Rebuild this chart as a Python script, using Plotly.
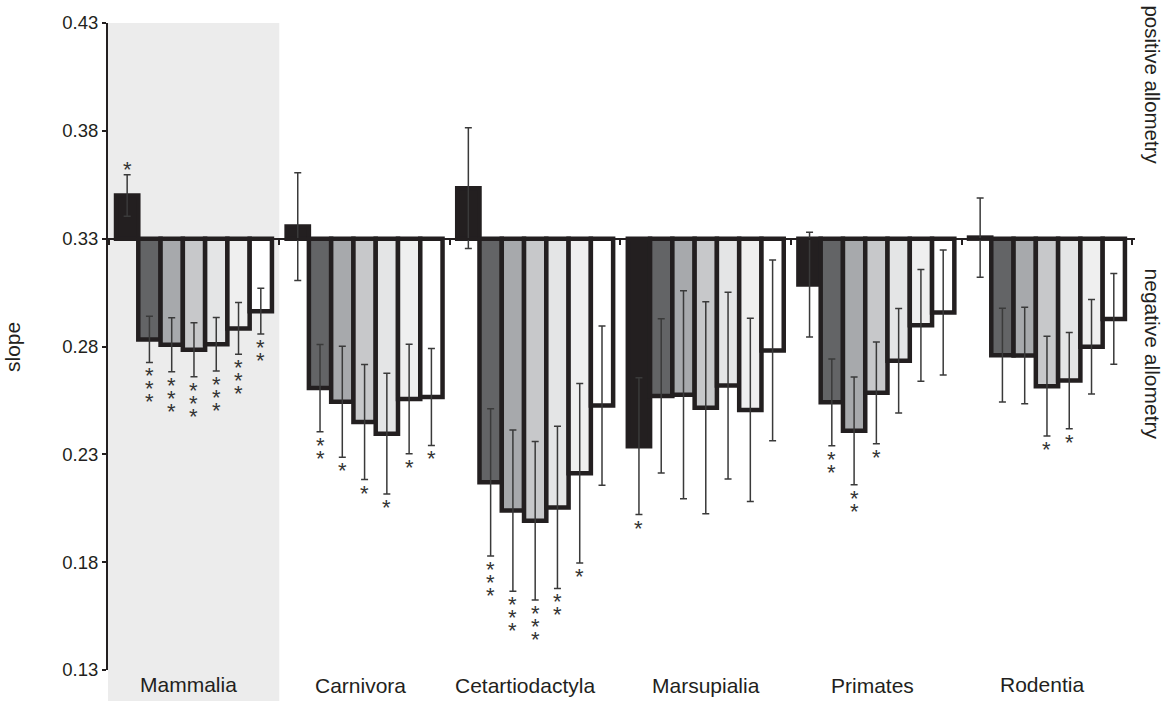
import plotly.graph_objects as go

# ---- data ----
groups = ["Mammalia", "Carnivora", "Cetartiodactyla", "Marsupialia", "Primates", "Rodentia"]
series = ["series 1", "series 2", "series 3", "series 4", "series 5", "series 6", "series 7"]
reference_slope = 0.33

# slope per group for each of the 7 series
slope_mammalia = [0.3500, 0.2833, 0.2808, 0.2785, 0.2810, 0.2884, 0.2964]
slope_carnivora = [0.3356, 0.2607, 0.2544, 0.2450, 0.2396, 0.2557, 0.2566]
slope_cetartiodactyla = [0.3534, 0.2170, 0.2039, 0.1992, 0.2054, 0.2212, 0.2526]
slope_marsupialia = [0.2338, 0.2571, 0.2576, 0.2516, 0.2619, 0.2506, 0.2782]
slope_primates = [0.3087, 0.2541, 0.2409, 0.2585, 0.2734, 0.2898, 0.2958]
slope_rodentia = [0.3305, 0.2760, 0.2758, 0.2616, 0.2642, 0.2799, 0.2928]

err_mammalia = [0.0096, 0.0107, 0.0125, 0.0125, 0.0124, 0.0120, 0.0106]
err_carnivora = [0.0250, 0.0202, 0.0257, 0.0267, 0.0280, 0.0254, 0.0225]
err_cetartiodactyla = [0.0280, 0.0341, 0.0374, 0.0368, 0.0376, 0.0416, 0.0369]
err_marsupialia = [0.0317, 0.0358, 0.0482, 0.0492, 0.0433, 0.0425, 0.0419]
err_primates = [0.0243, 0.0201, 0.0250, 0.0236, 0.0242, 0.0259, 0.0290]
err_rodentia = [0.0184, 0.0217, 0.0224, 0.0231, 0.0223, 0.0219, 0.0210]

# number of significance stars
stars_mammalia = [1, 3, 3, 3, 3, 3, 2]
stars_carnivora = [0, 2, 1, 1, 1, 1, 1]
stars_cetartiodactyla = [0, 3, 3, 3, 2, 1, 0]
stars_marsupialia = [1, 0, 0, 0, 0, 0, 0]
stars_primates = [0, 2, 2, 1, 0, 0, 0]
stars_rodentia = [0, 0, 0, 1, 1, 0, 0]

y_ticks = [0.13, 0.18, 0.23, 0.28, 0.33, 0.38, 0.43]

slopes = [slope_mammalia, slope_carnivora, slope_cetartiodactyla,
          slope_marsupialia, slope_primates, slope_rodentia]
errs = [err_mammalia, err_carnivora, err_cetartiodactyla,
        err_marsupialia, err_primates, err_rodentia]
stars = [stars_mammalia, stars_carnivora, stars_cetartiodactyla,
         stars_marsupialia, stars_primates, stars_rodentia]

# ---- style ----
fills = ["#231f20", "#636466", "#a7a9ac", "#c7c8ca", "#e4e5e6", "#efefef", "#ffffff"]
ink = "#231f20"
FONT = "Liberation Sans, Arial, sans-serif"
bargap = 0.086
xmin, xmax = -0.504, 5.516
ymin, ymax = 0.13, 0.43
label_shift_x = [-5, -4, -10, 0, -4, -5]
label_shift_y = [1, 0, 0, 0, 0, 1]

fig = go.Figure()
gx = list(range(len(groups)))
for j, name in enumerate(series):
    vals = [slopes[g][j] for g in gx]
    fig.add_trace(go.Bar(
        x=gx,
        y=[v - reference_slope for v in vals],
        base=reference_slope,
        name=name,
        marker=dict(color=fills[j], line=dict(color=ink, width=4.5)),
        error_y=dict(type="data", array=[errs[g][j] for g in gx],
                     color="#3a3a3a", thickness=1.5, width=3.5),
        hovertemplate="%{x}: %{y}<extra></extra>",
    ))

# significance stars
bw = (1 - bargap) / len(series)
annotations = []
for g in gx:
    for j in range(len(series)):
        n = stars[g][j]
        v = slopes[g][j]
        e = errs[g][j]
        up = v > reference_slope
        yend = v + e if up else v - e
        for k in range(n):
            annotations.append(dict(
                x=g + (j - 3) * bw, y=yend, xref="x", yref="y",
                text="*", showarrow=False,
                font=dict(family=FONT, size=22, color="#333333"),
                xanchor="center", yanchor="middle",
                yshift=(5 + 13 * k) if up else -(13.5 + 13 * k),
            ))

# category labels
for g, name in enumerate(groups):
    annotations.append(dict(
        x=g, y=-0.0244, xref="x", yref="paper", text=name, showarrow=False,
        font=dict(family=FONT, size=21, color=ink),
        xanchor="center", yanchor="middle",
        xshift=label_shift_x[g], yshift=label_shift_y[g],
    ))

annotations += [
    dict(x=-0.093, y=(0.28 - ymin) / (ymax - ymin), xref="paper", yref="paper",
         text="slope", textangle=-90, showarrow=False,
         xanchor="center", yanchor="middle",
         font=dict(family=FONT, size=21, color=ink)),
    dict(x=1.0166, y=0.905, xref="paper", yref="paper", text="positive allometry",
         textangle=90, showarrow=False, xanchor="center", yanchor="middle",
         font=dict(family=FONT, size=20.5, color=ink)),
    dict(x=1.0166, y=0.489, xref="paper", yref="paper", text="negative allometry",
         textangle=90, showarrow=False, xanchor="center", yanchor="middle",
         font=dict(family=FONT, size=21, color=ink)),
]

shade_x1 = (0.5 - xmin) / (xmax - xmin)
fig.update_layout(
    width=1170, height=701,
    margin=dict(l=108, r=35, t=15, b=31),
    paper_bgcolor="white", plot_bgcolor="white",
    barmode="group", bargap=bargap, bargroupgap=0,
    showlegend=False,
    annotations=annotations,
    shapes=[dict(type="rect", xref="paper", yref="paper",
                 x0=0, x1=shade_x1, y0=-0.06, y1=1,
                 fillcolor="#ececec", line=dict(width=0), layer="below")],
    xaxis=dict(range=[xmin, xmax], anchor="free",
               position=(reference_slope - ymin) / (ymax - ymin),
               showline=True, linecolor=ink, linewidth=2,
               tickmode="array", tickvals=[g - 0.5 for g in range(len(groups) + 1)],
               ticks="outside", ticklen=5, tickcolor=ink, tickwidth=1.5,
               showticklabels=False, showgrid=False, zeroline=False),
    yaxis=dict(range=[ymin, ymax], tickmode="array", tickvals=y_ticks,
               ticktext=[f"{t:.2f}" for t in y_ticks],
               showline=True, linecolor=ink, linewidth=2,
               ticks="outside", ticklen=4, tickcolor=ink, tickwidth=1.5,
               tickfont=dict(family=FONT, size=18.5, color=ink),
               showgrid=False, zeroline=False),
)

fig.write_html("out.html",
               config={"displayModeBar": False},
               post_script="document.body.style.margin='0';document.body.style.overflow='hidden';")
